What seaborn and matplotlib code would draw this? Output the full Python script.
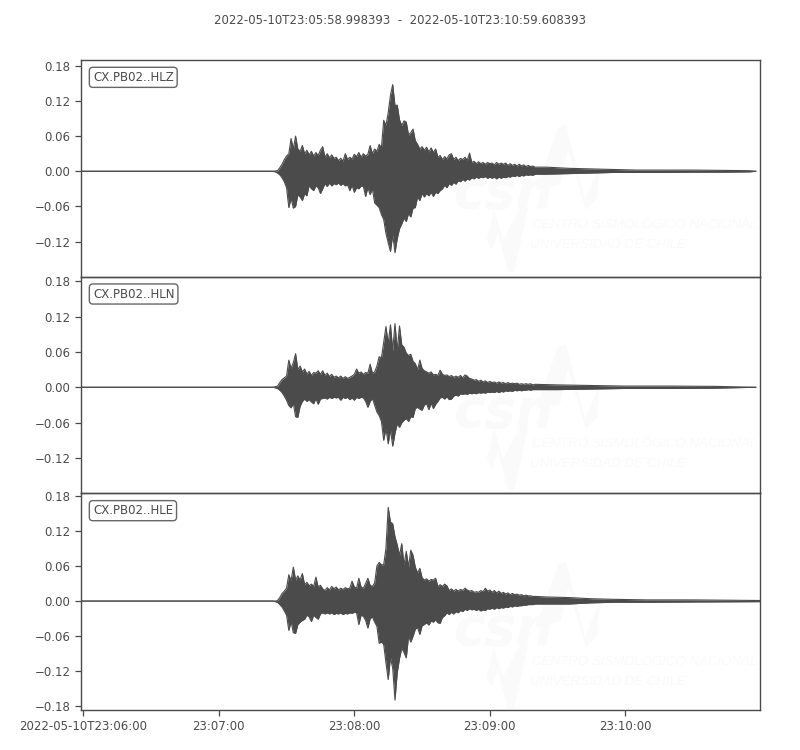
import matplotlib
matplotlib.use("Agg")
import matplotlib.pyplot as plt
import numpy as np
import seaborn as sns

TITLE = "2022-05-10T23:05:58.998393  -  2022-05-10T23:10:59.608393"
CHANNELS = ["CX.PB02..HLZ", "CX.PB02..HLN", "CX.PB02..HLE"]
X_TICKS = [0, 60, 120, 180, 240]
X_LABELS = ["2022-05-10T23:06:00", "23:07:00", "23:08:00", "23:09:00", "23:10:00"]
Y_TICKS = [0.18, 0.12, 0.06, 0.0, -0.06, -0.12, -0.18]
Y_LIMS = [(-0.18, 0.19), (-0.18, 0.1877), (-0.186, 0.184)]

# trace envelopes in 1/1000 units, one value per second from 23:07:25 (t=85 s)
hlz_up = [0.5, 1, 6, 12, 20, 26, 30, 56, 38, 60, 38, 34, 44, 30, 36, 28, 34, 26, 32, 27, 36, 42, 24, 30, 23, 28, 22, 24, 18, 22, 17, 30, 20, 24, 21, 29, 25, 32, 24, 30, 26, 29, 44, 30, 38, 34, 46, 40, 87, 78, 100, 130, 148, 112, 113, 88, 78, 86, 84, 62, 66, 72, 52, 46, 38, 42, 36, 41, 33, 40, 32, 38, 24, 27, 20, 25, 21, 28, 30, 20, 24, 18, 22, 20, 24, 19, 31, 15, 17, 13, 16, 13, 15, 12, 15, 13, 14, 11, 15, 12, 14, 12, 14, 10, 13, 10, 12, 9, 12, 9, 11, 8, 10, 8, 9, 7]
hlz_lo = [-1, -3, -6, -11, -18, -28, -62, -46, -63, -60, -40, -44, -50, -38, -42, -24, -30, -33, -25, -28, -38, -30, -21, -26, -20, -25, -21, -23, -20, -24, -21, -25, -23, -33, -24, -36, -28, -30, -25, -26, -43, -28, -40, -30, -54, -58, -62, -74, -82, -106, -122, -137, -108, -139, -115, -98, -90, -80, -86, -72, -78, -63, -62, -44, -50, -38, -44, -38, -42, -36, -43, -36, -38, -33, -30, -24, -28, -21, -24, -19, -22, -16, -18, -14, -17, -13, -15, -11, -13, -10, -12, -10, -11, -9, -12, -10, -12, -10, -13, -10, -12, -10, -11, -9, -10, -8, -9, -7, -9, -7, -8, -6, -7, -6, -7, -5]
hln_up = [1, 2, 8, 13, 16, 19, 46, 32, 42, 57, 30, 36, 26, 31, 22, 27, 20, 25, 24, 28, 22, 28, 20, 24, 18, 22, 17, 19, 16, 19, 15, 18, 15, 17, 19, 22, 31, 24, 26, 22, 25, 24, 39, 24, 26, 36, 52, 50, 76, 103, 74, 106, 62, 108, 62, 104, 72, 68, 58, 54, 56, 44, 40, 30, 46, 32, 28, 26, 24, 26, 21, 22, 20, 29, 22, 20, 21, 18, 20, 17, 19, 17, 20, 16, 21, 19, 15, 14, 12, 13, 10, 12, 9, 11, 8, 10, 8, 9, 7, 9, 7, 8, 6, 8, 6, 7, 6, 7, 5, 6, 5, 6, 5, 6, 4, 5]
hln_lo = [-1, -2, -5, -9, -15, -22, -31, -35, -27, -50, -51, -32, -24, -20, -24, -21, -25, -28, -19, -29, -20, -19, -18, -20, -17, -19, -17, -18, -17, -22, -17, -19, -17, -21, -18, -22, -17, -19, -17, -18, -24, -34, -24, -19, -30, -42, -48, -58, -90, -70, -96, -72, -100, -78, -62, -68, -60, -56, -53, -58, -50, -51, -36, -34, -37, -39, -30, -28, -38, -27, -36, -29, -24, -18, -17, -20, -16, -21, -20, -15, -13, -15, -11, -12, -11, -12, -10, -11, -10, -11, -9, -10, -9, -10, -8, -9, -8, -9, -7, -9, -7, -8, -6, -7, -6, -7, -5, -6, -5, -6, -5, -5, -4, -5, -4, -4]
hle_up = [0, 1, 6, 13, 17, 22, 45, 35, 58, 36, 43, 36, 47, 28, 32, 26, 29, 25, 41, 24, 27, 21, 18, 23, 19, 25, 21, 24, 19, 22, 20, 23, 21, 22, 34, 24, 22, 39, 24, 22, 30, 39, 27, 25, 31, 60, 66, 62, 62, 90, 160, 135, 132, 110, 96, 78, 98, 62, 85, 58, 87, 78, 58, 48, 56, 40, 36, 38, 34, 37, 36, 39, 25, 28, 25, 29, 26, 18, 21, 17, 20, 17, 20, 18, 22, 19, 17, 18, 15, 16, 15, 18, 16, 22, 17, 19, 15, 18, 14, 17, 13, 15, 12, 14, 11, 13, 11, 12, 10, 11, 9, 10, 9, 9, 8, 8]
hle_lo = [-1, -2, -6, -10, -17, -24, -50, -35, -54, -55, -40, -36, -33, -31, -24, -27, -35, -24, -28, -31, -22, -20, -22, -20, -22, -20, -23, -21, -22, -20, -23, -21, -22, -20, -21, -19, -20, -40, -24, -26, -33, -46, -30, -27, -36, -43, -72, -70, -74, -105, -134, -96, -115, -169, -122, -98, -80, -88, -97, -60, -70, -60, -48, -45, -57, -42, -40, -37, -41, -34, -36, -32, -37, -38, -28, -25, -20, -23, -19, -22, -18, -20, -16, -18, -14, -16, -13, -15, -14, -16, -14, -17, -15, -16, -13, -14, -12, -14, -11, -13, -11, -12, -10, -11, -9, -10, -8, -9, -8, -8, -7, -7, -6, -6, -6, -5]

# coda after t=200 s, same units
tail_t = [[205, 215, 225, 235, 245, 255, 270, 285, 295, 297.8],
          [210, 225, 240, 260, 280, 297.8],
          [205, 215, 225, 235, 250, 270, 299.6]]
tail_up = [[7, 5, 4, 3, 2, 2, 2, 1.5, 1, 0],
           [4, 3, 2, 2, 1.5, 0],
           [7, 6, 4, 3, 2, 2, 1]]
tail_lo = [[-5, -4, -3, -2, -2, -2, -1.5, -1.5, -1, 0],
           [-4, -3, -2, -2, -1.5, 0],
           [-5, -5, -3, -2, -2, -1.5, -1]]

UPPER = [hlz_up, hln_up, hle_up]
LOWER = [hlz_lo, hln_lo, hle_lo]

DARK = "#4b4b4b"
FAINT = "#fafafa"

sns.set_theme(style="ticks")
plt.rcParams.update({
    "font.family": ["DejaVu Sans"],
    "font.size": 8.5,
    "axes.edgecolor": DARK,
    "axes.linewidth": 1.0,
    "xtick.color": DARK,
    "ytick.color": DARK,
    "xtick.labelsize": 8.5,
    "ytick.labelsize": 8.5,
})


def watermark(fig, dy):
    # faint logo behind the trace, one per panel
    w, h = 800, 750

    def to_fig(pts):
        return [(x / w, 1 - (y + dy) / h) for x, y in pts]

    big_w = [(536, 190), (558, 128), (566, 125), (585, 200), (600, 165), (597, 198), (586, 210), (568, 150), (560, 185)]
    small_w = [(487, 240), (494, 210), (503, 240), (522, 205), (528, 208), (514, 272), (508, 272), (498, 232), (492, 250)]
    for pts in (big_w, small_w):
        fig.patches.append(plt.Polygon(to_fig(pts), closed=True, transform=fig.transFigure,
                                       fc=FAINT, ec="none", zorder=0))
    fig.text(453 / w, 1 - (208 + dy) / h, "csn", color=FAINT, fontsize=38, style="italic",
             fontweight="bold", zorder=0)
    fig.text(532 / w, 1 - (228 + dy) / h, "CENTRO SISMOLÓGICO NACIONAL", color=FAINT, fontsize=9.5,
             family="Liberation Sans", style="italic", zorder=0)
    fig.text(530 / w, 1 - (248 + dy) / h, "UNIVERSIDAD DE CHILE", color=FAINT, fontsize=9.5,
             family="Liberation Sans", style="italic", zorder=0)


fig, axes = plt.subplots(3, 1, figsize=(8, 7.5), sharex=True, dpi=100)
fig.subplots_adjust(left=81 / 800, right=760 / 800, top=1 - 60 / 750, bottom=1 - 710 / 750, hspace=0)

for i, ax in enumerate(axes):
    secs = 85 + np.arange(len(UPPER[i]))
    t = np.r_[-1, 84, secs, tail_t[i]]
    up = np.r_[0, 0, UPPER[i], tail_up[i]] / 1000
    lo = np.r_[0, 0, LOWER[i], tail_lo[i]] / 1000

    ax.set_zorder(2)  # keep the trace above the logo
    ax.patch.set_alpha(0)
    ax.fill_between(t, lo, up, color=DARK, lw=0, zorder=2)
    sns.lineplot(x=t, y=up, sort=False, estimator=None, color=DARK, lw=0.8, ax=ax, zorder=3)
    sns.lineplot(x=t, y=lo, sort=False, estimator=None, color=DARK, lw=0.8, ax=ax, zorder=3)

    ax.set_xlim(-1.0, 299.6)
    ax.set_ylim(*Y_LIMS[i])
    ticks = Y_TICKS if i == 2 else Y_TICKS[:-1]
    ax.set_yticks(ticks)
    ax.set_yticklabels([f"{v:.2f}".replace("-", "\u2212") if v != 0 else "0.00" for v in ticks])
    ax.set_xticks(X_TICKS)
    ax.tick_params(axis="y", length=4, width=0.9, pad=3.5)
    ax.tick_params(axis="x", length=4 if i == 2 else 0, width=0.9, pad=3.5)
    ax.text(0.0175, 0.92, CHANNELS[i], transform=ax.transAxes, ha="left", va="center",
            color=DARK, fontsize=8.5,
            bbox=dict(boxstyle="round,pad=0.3", fc="white", ec="#666666", lw=1.0))

axes[2].set_xticklabels(X_LABELS)
for dy, _ in zip((0, 219, 437), axes):
    watermark(fig, dy)

fig.text(0.5, 1 - 20 / 750, TITLE, ha="center", va="center", color=DARK, fontsize=8.5)

fig.savefig("out.png", dpi=100)
plt.close(fig)
